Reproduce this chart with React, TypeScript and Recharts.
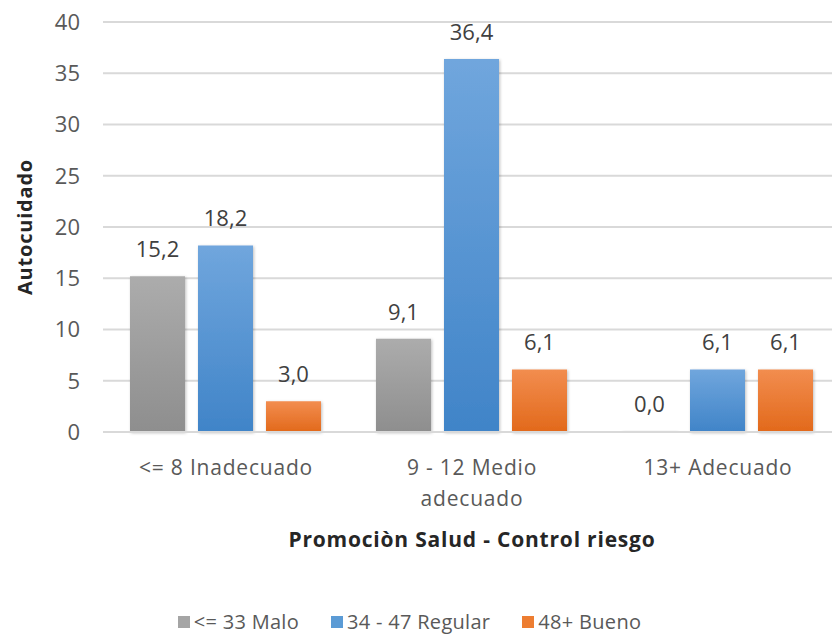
import React from "react";
import {
  BarChart,
  Bar,
  XAxis,
  YAxis,
  CartesianGrid,
  Legend,
  LabelList,
  Label,
} from "recharts";

const categories = ["<= 8 Inadecuado", "9 - 12 Medio adecuado", "13+ Adecuado"];
const tickLines = [["<= 8 Inadecuado"], ["9 - 12 Medio", "adecuado"], ["13+ Adecuado"]];
const malo = [15.2, 9.1, 0.0];
const regular = [18.2, 36.4, 6.1];
const bueno = [3.0, 6.1, 6.1];
const yTicks = [0, 5, 10, 15, 20, 25, 30, 35, 40];

const series = [
  { key: "malo", name: "<= 33 Malo", top: "#acacac", bottom: "#8e8e8e", swatch: "#a5a5a5" },
  { key: "regular", name: "34 - 47 Regular", top: "#70a6dd", bottom: "#4084c8", swatch: "#5b9bd5" },
  { key: "bueno", name: "48+ Bueno", top: "#f28d4f", bottom: "#e2691b", swatch: "#ed7d31" },
];

const data = categories.map((c, i) => ({
  name: c,
  malo: malo[i],
  regular: regular[i],
  bueno: bueno[i],
}));

const FONT = "'Open Sans', sans-serif";

const fmt = (v: any) => Number(v).toFixed(1).replace(".", ",");

function XTick(props: any) {
  const { x, y, index } = props;
  const lines = tickLines[index] || [];
  return (
    <g>
      {lines.map((l, i) => (
        <text
          key={i}
          x={x}
          y={y + 35 + i * 31}
          textAnchor="middle"
          fill="#595959"
          fontSize={21}
          letterSpacing={0.8}
          fontFamily={FONT}
        >
          {l}
        </text>
      ))}
    </g>
  );
}

function LegendContent() {
  return (
    <div
      style={{
        display: "flex",
        justifyContent: "center",
        gap: 32,
        fontFamily: FONT,
        fontSize: 20,
        lineHeight: "27px",
        color: "#595959",
        paddingRight: 22,
        letterSpacing: 0.3,
      }}
    >
      {series.map((s) => (
        <div key={s.key} style={{ display: "flex", alignItems: "center" }}>
          <span
            style={{
              display: "inline-block",
              width: 12,
              height: 12,
              background: s.swatch,
              marginRight: 4,
            }}
          />
          {s.name}
        </div>
      ))}
    </div>
  );
}

export default function App() {
  return (
    <div
      style={{
        position: "absolute",
        left: 0,
        top: 0,
        width: 832,
        height: 635,
        overflow: "hidden",
        background: "#fff",
      }}
    >
      <BarChart
        width={850}
        height={635}
        data={data}
        margin={{ top: 22, right: 9, left: 0, bottom: 0 }}
        barCategoryGap={27}
        barGap={13}
      >
        <defs>
          {series.map((s) => (
            <linearGradient key={s.key} id={`grad-${s.key}`} x1="0" y1="0" x2="0" y2="1">
              <stop offset="0%" stopColor={s.top} />
              <stop offset="100%" stopColor={s.bottom} />
            </linearGradient>
          ))}
          <filter id="shadow" x="-20%" y="-20%" width="140%" height="140%">
            <feDropShadow dx="1" dy="1" stdDeviation="1.5" floodColor="#000" floodOpacity="0.25" />
          </filter>
        </defs>
        <CartesianGrid vertical={false} stroke="#d9d9d9" strokeWidth={2} />
        <XAxis
          dataKey="name"
          axisLine={{ stroke: "#d9d9d9", strokeWidth: 2 }}
          tickLine={false}
          tick={<XTick />}
          height={176}
          interval={0}
        >
          <Label
            value="Promociòn Salud - Control riesgo"
            position="insideBottom"
            offset={61}
            fill="#262626"
            fontSize={21}
            fontWeight="bold"
            letterSpacing={0.8}
            fontFamily={FONT}
          />
        </XAxis>
        <YAxis
          domain={[0, 40]}
          ticks={yTicks}
          width={103}
          axisLine={false}
          tickLine={false}
          tickMargin={17}
          tick={{ fill: "#595959", fontSize: 22, fontFamily: FONT }}
        >
          <Label
            value="Autocuidado"
            angle={-90}
            position="center"
            dx={-27}
            fill="#262626"
            fontSize={20}
            fontWeight="bold"
            letterSpacing={0.8}
            fontFamily={FONT}
          />
        </YAxis>
        <Legend verticalAlign="bottom" content={<LegendContent />} />
        {series.map((s) => (
          <Bar
            key={s.key}
            dataKey={s.key}
            name={s.name}
            fill={`url(#grad-${s.key})`}
            filter="url(#shadow)"
            minPointSize={(v: any) => (Number(v) === 0 ? 1 : 0)}
            isAnimationActive={false}
          >
            <LabelList
              dataKey={s.key}
              position="top"
              offset={19}
              formatter={fmt}
              fill="#404040"
              fontSize={22}
              fontFamily={FONT}
            />
          </Bar>
        ))}
      </BarChart>
    </div>
  );
}
